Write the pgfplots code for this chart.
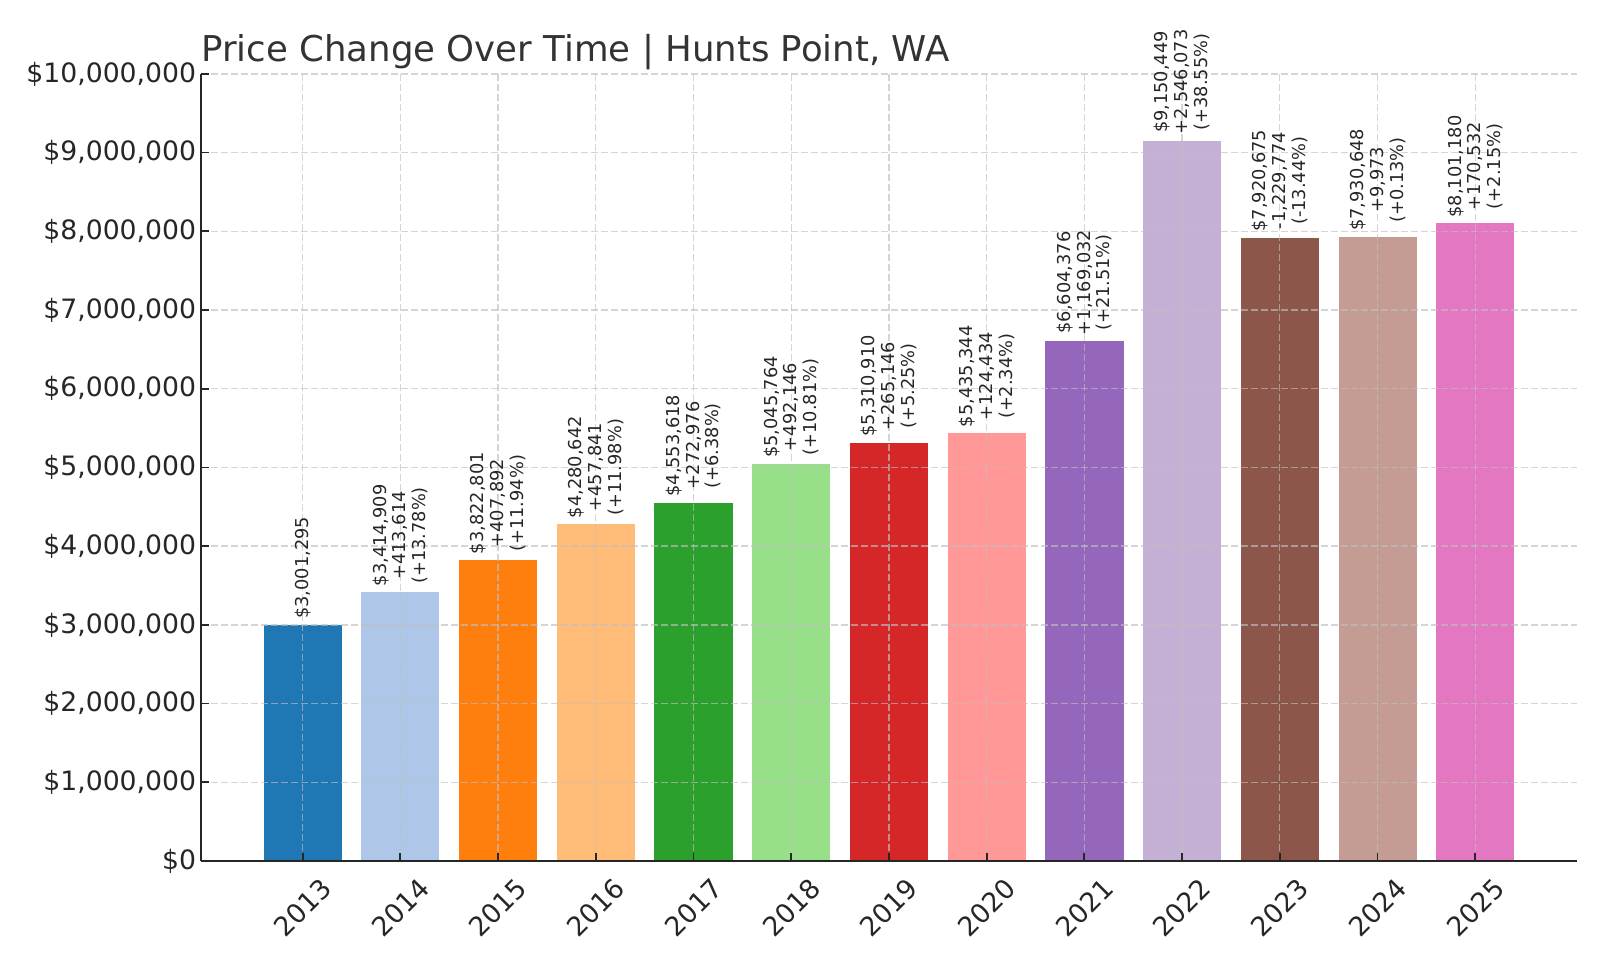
\documentclass[border=0pt]{standalone}
\usepackage{fontspec}
\setmainfont{DejaVu Sans}
\usepackage{pgfplots}
\pgfplotsset{compat=1.18}

\definecolor{c13}{HTML}{1F77B4}
\definecolor{c14}{HTML}{AEC7E8}
\definecolor{c15}{HTML}{FF7F0E}
\definecolor{c16}{HTML}{FFBB78}
\definecolor{c17}{HTML}{2CA02C}
\definecolor{c18}{HTML}{98DF8A}
\definecolor{c19}{HTML}{D62728}
\definecolor{c20}{HTML}{FF9896}
\definecolor{c21}{HTML}{9467BD}
\definecolor{c22}{HTML}{C5B0D5}
\definecolor{c23}{HTML}{8C564B}
\definecolor{c24}{HTML}{C49C94}
\definecolor{c25}{HTML}{E377C2}
\definecolor{txt}{HTML}{262626}

\begin{document}
\begin{tikzpicture}
\begin{axis}[
  at={(0,0)}, anchor=south west,
  scale only axis,
  width=619.2pt, height=354.2pt,
  xmin=2011.96, xmax=2026.04,
  ymin=0, ymax=10000000,
  ybar, bar width=0.8, bar shift=0pt,
  axis x line*=bottom, axis y line*=left,
  axis line style={black!85, line width=0.9pt},
  tick align=inside,
  major tick length=3.5pt,
  tick style={black!85, line width=0.8pt},
  xtick={2013,...,2025},
  xticklabels={2013,2014,2015,2016,2017,2018,2019,2020,2021,2022,2023,2024,2025},
  ytick={0,1000000,2000000,3000000,4000000,5000000,6000000,7000000,8000000,9000000,10000000},
  yticklabels={{\$0},{\$1,000,000},{\$2,000,000},{\$3,000,000},{\$4,000,000},{\$5,000,000},{\$6,000,000},{\$7,000,000},{\$8,000,000},{\$9,000,000},{\$10,000,000}},
  scaled y ticks=false,
  ticklabel style={font=\fontsize{12}{14}\selectfont, text=txt},
  x tick label style={anchor=center, yshift=-21pt, rotate=45},
  y tick label style={inner sep=2pt},
  xmajorgrids, ymajorgrids,
  grid style={black!25, opacity=0.65, line width=0.6pt, dash pattern=on 3pt off 1.5pt},
  axis on top,
  clip=false,
  every node near coord/.append style={rotate=90, anchor=west, align=center,
    font=\fontsize{8}{8.9}\selectfont, text=txt, inner sep=2.5pt},
]
\addplot[fill=c13, draw=none, nodes near coords={\$3,001,295}] coordinates {(2013,3001295)};
\addplot[fill=c14, draw=none, nodes near coords={\$3,414,909\\+413,614\\(+13.78\%)}] coordinates {(2014,3414909)};
\addplot[fill=c15, draw=none, nodes near coords={\$3,822,801\\+407,892\\(+11.94\%)}] coordinates {(2015,3822801)};
\addplot[fill=c16, draw=none, nodes near coords={\$4,280,642\\+457,841\\(+11.98\%)}] coordinates {(2016,4280642)};
\addplot[fill=c17, draw=none, nodes near coords={\$4,553,618\\+272,976\\(+6.38\%)}] coordinates {(2017,4553618)};
\addplot[fill=c18, draw=none, nodes near coords={\$5,045,764\\+492,146\\(+10.81\%)}] coordinates {(2018,5045764)};
\addplot[fill=c19, draw=none, nodes near coords={\$5,310,910\\+265,146\\(+5.25\%)}] coordinates {(2019,5310910)};
\addplot[fill=c20, draw=none, nodes near coords={\$5,435,344\\+124,434\\(+2.34\%)}] coordinates {(2020,5435344)};
\addplot[fill=c21, draw=none, nodes near coords={\$6,604,376\\+1,169,032\\(+21.51\%)}] coordinates {(2021,6604376)};
\addplot[fill=c22, draw=none, nodes near coords={\$9,150,449\\+2,546,073\\(+38.55\%)}] coordinates {(2022,9150449)};
\addplot[fill=c23, draw=none, nodes near coords={\$7,920,675\\-1,229,774\\(-13.44\%)}] coordinates {(2023,7920675)};
\addplot[fill=c24, draw=none, nodes near coords={\$7,930,648\\+9,973\\(+0.13\%)}] coordinates {(2024,7930648)};
\addplot[fill=c25, draw=none, nodes near coords={\$8,101,180\\+170,532\\(+2.15\%)}] coordinates {(2025,8101180)};
\node[anchor=base west, inner sep=0pt, text=black!80, font=\fontsize{16}{19}\selectfont]
  at (rel axis cs:0,1) [yshift=5.5pt] {Price Change Over Time | Hunts Point, WA};
\end{axis}
% page frame: 1600x960 px at 0.45pt per px
\pgfresetboundingbox
\path[use as bounding box] (-90.45pt,-44.55pt) rectangle (629.55pt,387.45pt);
\end{tikzpicture}
\end{document}
